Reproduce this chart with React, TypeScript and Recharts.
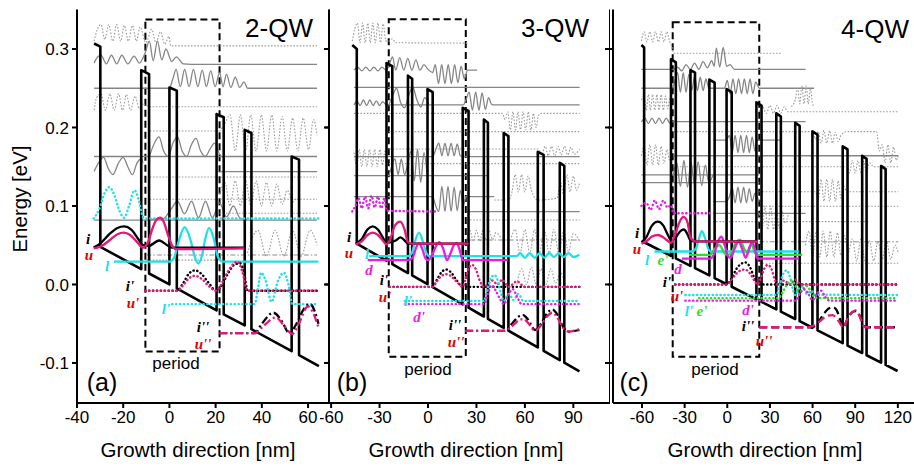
import React from 'react';
import { LineChart, Line, XAxis, YAxis, ReferenceArea } from 'recharts';

// ---------- shared axis values ----------
const Y_DOM: [number, number] = [-0.151, 0.3503];
const Y_TICKS = [-0.1, 0, 0.1, 0.2, 0.3];
const XT_A = [-40, -20, 0, 20, 40, 60];
const XT_B = [-60, -30, 0, 30, 60, 90];
const XT_C = [-60, -30, 0, 30, 60, 90, 120];

// ---------- panel (a) 2-QW : [x nm, E eV] pairs ----------
const bandA = [-32.6,0.307, -29.9,0.303, -29.9,0.048, -12.2,0.0195, -12.2,0.273, -8.8,0.268, -8.8,0.014, 0,0, 0,0.251, 3.2,0.247, 3.2,-0.005, 20.4,-0.033, 20.4,0.217, 23.5,0.213, 23.5,-0.038, 32.6,-0.052, 32.6,0.197, 35.5,0.193, 35.5,-0.057, 52.9,-0.085, 52.9,0.163, 56.1,0.159, 56.1,-0.09, 64.7,-0.104];
const iA = [-32.8,0.047, -30,0.052, -26,0.064, -22.5,0.072, -19.6,0.074, -16.5,0.07, -13.5,0.058, -11.5,0.05, -9,0.049, -4.5,0.056, -1,0.05, 1,0.047, 32.4,0.047];
const uA = [-32.8,0.046, -30,0.048, -26,0.056, -22.5,0.064, -19.8,0.066, -17,0.063, -14,0.054, -11.5,0.047, -9.5,0.052, -7.5,0.07, -5.5,0.083, -4,0.085, -2.5,0.08, -0.5,0.062, 1.5,0.048, 3,0.045, 32.4,0.046];
const lA = [-24,0.029, 0,0.029, 2,0.034, 4,0.055, 6.6,0.073, 9,0.058, 11,0.035, 12.5,0.027, 14,0.036, 15.5,0.058, 17.2,0.072, 19.2,0.058, 21,0.035, 23,0.029, 64.5,0.029];
const lUpA = [-32.8,0.084, -30.5,0.095, -28,0.117, -26,0.124, -24,0.115, -21.5,0.093, -19.6,0.085, -17.5,0.1, -15.1,0.12, -13.3,0.108, -11.5,0.086, -10.5,0.084, 64.5,0.084];
const i1A = [-10.5,-0.008, 3.4,-0.008, 6,0.002, 8.5,0.014, 11.1,0.018, 14,0.013, 17,0.002, 20.2,-0.008, 22,-0.004, 25,0.012, 28,0.025, 30.6,0.027, 32.5,0.012, 33.8,-0.008, 64.5,-0.008];
const u1A = [-10.5,-0.008, 3.4,-0.008, 6,-0.001, 8.5,0.008, 11,0.011, 14,0.007, 17,-0.002, 20.2,-0.008, 22,-0.002, 25,0.015, 28,0.027, 29.5,0.029, 31.5,0.017, 33.8,-0.008, 64.5,-0.008];
const l1A = [1.2,-0.025, 36.9,-0.025, 38.3,-0.005, 39.7,0.015, 41.5,0.006, 44.2,-0.022, 47,0.005, 49.6,0.015, 51.5,0.0, 53.2,-0.025, 64.5,-0.025];
const i2A = [21.6,-0.062, 36.9,-0.062, 40,-0.05, 45,-0.036, 48.5,-0.046, 51.9,-0.062, 55,-0.05, 58,-0.032, 60.9,-0.025, 63,-0.035, 64.5,-0.05];
const u2A = [21.6,-0.062, 37,-0.062, 41,-0.052, 46,-0.042, 49.5,-0.052, 53.2,-0.063, 56,-0.05, 60,-0.028, 62,-0.035, 64.5,-0.055];
const gA1 = [-32.6,0.31, -31.2,0.325, -29.6,0.331, -28,0.312, -26.3,0.331, -24.5,0.31, -22.8,0.331, -21.1,0.31, -19.5,0.33, -17.8,0.31, -16,0.33, -14.3,0.31, -12.7,0.328, -10.2,0.308, -7.7,0.325, -5.8,0.308, -3.9,0.322, -2,0.306, -0.2,0.316, 0.6,0.304, 63.9,0.304];
const gA2 = [-32.6,0.282, -31,0.29, -29.6,0.292, -27.3,0.281, -25.1,0.292, -22.8,0.281, -20.6,0.292, -18,0.281, -15.3,0.291, -13,0.282, -10.5,0.295, -8.7,0.31, -7,0.285, -5.2,0.31, -3.3,0.286, -1.5,0.3, 1,0.284, 3,0.29, 6,0.281, 9.6,0.2805, 63.9,0.2805];
const gA3 = [-32.6,0.25, 0,0.25, 1.5,0.262, 2.9,0.274, 4.7,0.252, 6.6,0.274, 8.5,0.252, 10.4,0.274, 12.3,0.252, 14.2,0.273, 16,0.252, 17.9,0.272, 19.8,0.252, 21.7,0.27, 23.2,0.252, 24.7,0.268, 26.6,0.251, 28.5,0.264, 30.4,0.251, 32.3,0.258, 33.8,0.25, 63.9,0.25];
const gA4 = [-32.6,0.222, -31.5,0.238, -29.6,0.243, -27.7,0.222, -25.8,0.243, -23.9,0.222, -22,0.243, -20.3,0.222, -18.6,0.242, -16.8,0.222, -14.9,0.24, -13,0.224, -11.5,0.23, -8.5,0.2265, 63.9,0.2265];
const gA5 = [21.7,0.195, 24,0.205, 26.2,0.216, 28.5,0.17, 30.7,0.216, 33,0.17, 35.2,0.216, 37.5,0.17, 39.8,0.216, 42,0.17, 44.3,0.216, 46.5,0.17, 48.8,0.214, 51,0.17, 53.3,0.212, 55.6,0.17, 57.9,0.212, 60.2,0.172, 62.4,0.21, 63.9,0.19];
const gA6 = [-8.5,0.1955, 21.7,0.1955];
const gA7 = [-32.6,0.163, 63.9,0.163];
const gA7b = [-32.6,0.144, -30.5,0.156, -28.5,0.162, -26.5,0.148, -24.5,0.14, -22,0.155, -20,0.162, -18,0.15, -16,0.14, -14,0.155, -12,0.16, -11.5,0.155];
const gA7c = [-8.5,0.165, -6.5,0.18, -4.5,0.188, -2.5,0.17, -0.5,0.163, 1.5,0.18, 3.5,0.188, 5.5,0.17, 7.5,0.163, 9.5,0.178, 11.5,0.186, 13.5,0.17, 15.5,0.163, 17.5,0.172, 19.5,0.18, 21.7,0.165];
const gA8 = [21.7,0.1437, 63.9,0.1437];
const gA9 = [-8.5,0.137, 63.9,0.137];
const gA10 = [21.7,0.115, 24,0.13, 26.2,0.1, 28.5,0.132, 30.7,0.1, 33,0.132, 35.2,0.1, 37.5,0.132, 39.8,0.1, 42,0.13, 44.3,0.1, 46.5,0.128, 48.8,0.102, 51,0.12, 53.3,0.105, 55,0.11];
const gA11 = [-8.5,0.1085, 63.9,0.1085];
const gA12 = [-8.5,0.083, -3,0.083, 0.5,0.095, 3.5,0.106, 6.5,0.09, 9.6,0.106, 12.6,0.085, 15.6,0.106, 18.6,0.085, 21.7,0.104, 24.7,0.086, 27.7,0.1, 30.7,0.084, 33.8,0.083];
const gA13 = [-32.6,0.082, 63.9,0.082];
const gA14 = [21.7,0.0907, 63.9,0.0907];
const gA15 = [33.8,0.04, 36,0.06, 38.3,0.069, 42,0.036, 45.8,0.069, 49.5,0.036, 53.3,0.069, 57,0.036, 60.9,0.069, 63.9,0.05];
const gA16 = [-10,0.0376, 63.9,0.0376];
const gA17 = [-10,0.031, 21.7,0.031];

// ---------- panel (b) 3-QW ----------
const bandB = [-46.9,0.305, -44.1,0.3, -44.1,0.052, -25.7,0.0303, -25.7,0.282, -22.1,0.278, -22.1,0.026, -12.4,0.0146, -12.4,0.266, -9.8,0.262, -9.8,0.0116, -0.3,0.0004, -0.3,0.249, 2.9,0.245, 2.9,-0.0034, 21.5,-0.0254, 21.5,0.225, 25.1,0.221, 25.1,-0.0296, 34.6,-0.0408, 34.6,0.21, 37.1,0.206, 37.1,-0.0438, 46.9,-0.0553, 46.9,0.193, 49.8,0.189, 49.8,-0.0588, 68,-0.0802, 68,0.169, 71.6,0.165, 71.6,-0.0845, 81.6,-0.0963, 81.6,0.155, 84.4,0.151, 84.4,-0.0996, 93.8,-0.1107];
const iB = [-44.8,0.052, -41,0.058, -37.5,0.07, -34.2,0.074, -31,0.07, -28,0.06, -25.7,0.053, -20,0.056, -17,0.06, -14,0.055, -12.4,0.052, 25,0.052];
const uB = [-44.8,0.051, -41,0.055, -37.5,0.063, -34.2,0.066, -31,0.063, -28,0.056, -25.7,0.051, -23.5,0.057, -20.5,0.075, -17.2,0.08, -14.5,0.07, -12.4,0.054, -9.8,0.052, 25.1,0.052];
const lB = [-36.5,0.036, -12.4,0.036, -10,0.04, -8,0.055, -5.6,0.066, -3.2,0.055, -1,0.04, 1,0.036, 55,0.036, 57,0.04, 60,0.034, 63,0.04, 66,0.034, 69,0.04, 72,0.034, 75,0.04, 78,0.035, 81,0.04, 84,0.035, 87,0.04, 90,0.035, 93.7,0.038];
const dB = [-37.3,0.031, -12.4,0.031, -9.5,0.034, -7.5,0.046, -5.6,0.053, -3.5,0.045, -1.5,0.033, 0,0.031, 2,0.035, 4.5,0.047, 7.1,0.054, 9.5,0.045, 11.8,0.031, 14,0.04, 16,0.05, 17.7,0.053, 19.5,0.045, 21.5,0.031, 49.4,0.031];
const dUpB = [-46.9,0.093, -45,0.1, -43,0.11, -41,0.097, -39,0.112, -37,0.097, -35,0.113, -33,0.098, -31,0.112, -29,0.097, -27,0.11, -25.7,0.094, 4.8,0.093];
const i1B = [-23.8,-0.003, 2.9,-0.003, 5.5,0.006, 8.5,0.016, 11.3,0.019, 14,0.016, 17.5,0.006, 21.5,-0.003, 93.7,-0.003];
const u1B = [-23.8,-0.003, 2.9,-0.003, 5.5,0.004, 8.5,0.011, 11,0.013, 14,0.011, 17.5,0.004, 21.5,-0.003, 23,0.005, 25,0.02, 27.2,0.025, 29.5,0.02, 32,0.005, 34.6,-0.003, 40,0.005, 43,0.0, 46,0.006, 50,-0.003, 55,0.004, 60,-0.003, 93.7,-0.003];
const l1B = [-14.3,-0.021, 34.6,-0.021, 37,-0.005, 39,0.008, 41,0.012, 43,0.006, 45,-0.01, 47,-0.021, 50,-0.012, 53,-0.02, 56,-0.012, 59,-0.021, 93.7,-0.021];
const d1B = [-14.3,-0.025, 34.6,-0.025, 37,-0.012, 39.5,-0.001, 42,-0.008, 45,-0.02, 47,-0.025, 50,-0.012, 52.5,-0.006, 55,-0.015, 58,-0.025, 93.7,-0.025];
const i2B = [23,-0.059, 47.3,-0.059, 52,-0.05, 56,-0.041, 59,-0.039, 62,-0.045, 66.3,-0.058, 70,-0.05, 74,-0.036, 77,-0.032, 80,-0.038, 84,-0.055, 87,-0.06, 93.7,-0.058];
const u2B = [23,-0.059, 47.3,-0.059, 52,-0.053, 56,-0.046, 59,-0.044, 62,-0.049, 66.3,-0.059, 70,-0.052, 74,-0.04, 77,-0.036, 80,-0.042, 84,-0.056, 87,-0.06, 93.7,-0.057];
const gB1 = [-46.9,0.31, -45.3,0.326, -43.7,0.333, -42.1,0.308, -40.5,0.333, -38.9,0.308, -37.3,0.333, -35.7,0.308, -34.2,0.333, -32.6,0.308, -31,0.333, -29.4,0.308, -27.8,0.332, -26,0.31, -24.2,0.31, -22,0.313, -20,0.308, 25.1,0.3075];
const gB2 = [-45.8,0.273, -43.5,0.277, -41,0.272, -38.5,0.277, -36,0.272, -33.5,0.277, -31,0.272, -28.5,0.277, -26,0.273, -24,0.28, -22,0.29, -20,0.273, -17.5,0.289, -15,0.273, -12.5,0.288, -10,0.273, -7.5,0.286, -5,0.273, -2.5,0.28, 0,0.274, 2.9,0.27, 4.5,0.28, 6.5,0.256, 8.5,0.28, 10.5,0.256, 12.5,0.28, 14.5,0.256, 16.5,0.28, 18.5,0.257, 20.5,0.278, 22.5,0.262, 24.5,0.273, 30.4,0.273];
const gB3 = [-45.8,0.251, 93.9,0.251];
const gB3b = [-24.2,0.2287, -22,0.24, -19.5,0.25, -17,0.232, -14.5,0.225, -12,0.24, -9.5,0.252, -7,0.236, -4.5,0.226, -2,0.238, 0.5,0.229];
const gB4 = [-45.8,0.2287, -44,0.234, -42,0.228, -40,0.235, -38,0.228, -36,0.235, -34,0.228, -32,0.234, -30,0.228, -28,0.233, -26,0.229, -24.2,0.2287, 21.9,0.2287, 23.5,0.235, 25.5,0.245, 27.5,0.222, 29.5,0.245, 31.5,0.222, 33.5,0.244, 35.5,0.223, 37.5,0.238, 39.5,0.229, 41,0.2287, 93.9,0.2287];
const gB5 = [-45.8,0.218, 46,0.218, 47.8,0.21, 49.4,0.22, 51,0.197, 52.6,0.22, 54.2,0.197, 55.7,0.22, 57.3,0.197, 58.9,0.22, 60.5,0.197, 62.1,0.22, 63.7,0.197, 65.3,0.218, 66.9,0.2, 68.4,0.215, 70,0.218, 93.9,0.218];
const gB6 = [-24.2,0.1947, 93.9,0.1947];
const gB7 = [-45.8,0.168, -44.2,0.152, -42.6,0.172, -41,0.15, -39.4,0.172, -37.8,0.15, -36.2,0.172, -34.6,0.15, -33,0.172, -31.4,0.15, -29.8,0.172, -28.2,0.152, -26.6,0.17, -24.2,0.1726, 68.5,0.1726, 70.5,0.165, 72.5,0.176, 74.5,0.164, 76.5,0.176, 78.5,0.164, 80.5,0.176, 82.5,0.165, 84.5,0.176, 86.5,0.165, 88.5,0.175, 90.5,0.166, 93.9,0.172];
const gB8 = [-45.8,0.1628, 2.9,0.1628, 4.8,0.172, 6.7,0.18, 8.6,0.164, 10.5,0.18, 12.4,0.164, 14.3,0.18, 16.2,0.164, 18.1,0.179, 20,0.164, 21.9,0.1628, 93.9,0.1628];
const gB9 = [-24.2,0.1386, -22.5,0.15, -20.5,0.16, -18.5,0.14, -16.5,0.16, -14.5,0.14, -12.4,0.155, -10.5,0.17, -8.5,0.132, -6.5,0.172, -4.5,0.13, -2.5,0.168, -0.5,0.139];
const gB10 = [-45.8,0.1386, 36.7,0.1386];
const gB11 = [-45.8,0.1119, 2.9,0.1119, 4.8,0.1, 6.7,0.093, 8.6,0.125, 10.5,0.093, 12.4,0.125, 14.3,0.093, 16.2,0.124, 18.1,0.094, 20,0.12, 21.9,0.1, 23.5,0.1119, 41,0.1119];
const gB12 = [41,0.1076, 50,0.1076, 52,0.118, 54,0.14, 56,0.118, 58,0.14, 60,0.118, 62,0.138, 64,0.12, 68,0.1076, 80,0.11, 82,0.13, 84,0.115, 86,0.14, 88,0.118, 90,0.138, 92,0.12, 93.9,0.13];
const gB13 = [24,0.0928, 93.9,0.0928];
const gB14 = [24,0.0822, 93.9,0.0822];
const gB15 = [-24.2,0.154, 93.9,0.154];
const gB16 = [24,0.0575, 26,0.069, 28,0.055, 30,0.069, 32,0.055, 34,0.069, 36,0.056, 38,0.068, 40,0.057, 42,0.066, 45,0.06];
const gB17 = [51.6,0.06, 54,0.07, 57,0.04, 60,0.07, 63,0.04, 66,0.07, 69,0.04, 72,0.07, 75,0.04, 78,0.07, 81,0.04, 84,0.068, 87,0.042, 90,0.065, 93.9,0.055];
const gB18 = [24,0.0567, 93.9,0.0567];
const gB19 = [55,0.0, 58,0.02, 61,0.0, 64,0.022, 67,0.0, 70,0.02, 73,0.0, 76,0.02, 79,0.002, 82,0.015, 85,0.0];

// ---------- panel (c) 4-QW ----------
const bandC = [-60.4,0.305, -58.5,0.302, -58.5,0.0538, -39.6,0.0364, -39.6,0.287, -36.2,0.283, -36.2,0.0333, -25.9,0.0238, -25.9,0.273, -22.7,0.27, -22.7,0.0209, -12.6,0.0116, -12.6,0.261, -8.9,0.257, -8.9,0.0082, -0.5,0.0005, -0.5,0.249, 3.1,0.245, 3.1,-0.0029, 20.5,-0.0189, 20.5,0.232, 24.1,0.228, 24.1,-0.0222, 34.5,-0.0317, 34.5,0.218, 37.7,0.214, 37.7,-0.0347, 47.8,-0.044, 47.8,0.206, 50.9,0.202, 50.9,-0.0468, 59.9,-0.0551, 59.9,0.195, 63.5,0.191, 63.5,-0.0584, 81.2,-0.0747, 81.2,0.176, 84.6,0.172, 84.6,-0.0778, 94.9,-0.0873, 94.9,0.164, 98,0.16, 98,-0.0902, 108.2,-0.0995, 108.2,0.151, 111.4,0.147, 111.4,-0.1025, 119.8,-0.1102];
const iC = [-60.4,0.054, -57,0.06, -53,0.075, -48.8,0.08, -45,0.075, -41.5,0.062, -39.6,0.056, -37,0.058, -33,0.068, -30.5,0.07, -28,0.064, -25.9,0.056, -22.7,0.055, 21,0.055];
const uC = [-60.4,0.052, -57,0.055, -53,0.061, -48.8,0.063, -45,0.06, -41.5,0.055, -39.6,0.053, -37,0.062, -33.5,0.08, -30.7,0.086, -28,0.079, -25.9,0.06, -22.7,0.055, 21.3,0.0545];
const lC = [-51.2,0.042, -25,0.042, -22,0.046, -20,0.058, -17.9,0.068, -15.5,0.058, -13.5,0.046, -12,0.042, 50.2,0.042];
const eC = [-27,0.0376, -12,0.0376, -9,0.045, -5.5,0.05, -2,0.04, 0,0.0376, 3,0.04, 6,0.054, 9,0.057, 12,0.045, 14.5,0.04, 17,0.052, 19.5,0.04, 22,0.0376, 52.7,0.0376];
const dC = [-31.9,0.033, -12,0.033, -9,0.04, -6.5,0.055, -4.1,0.061, -1.8,0.05, 0.5,0.036, 2.5,0.034, 5,0.045, 8,0.055, 10.5,0.045, 13,0.034, 15.5,0.047, 17.6,0.054, 19.5,0.045, 21,0.033, 50.2,0.033];
const dUpC = [-60.4,0.1, -57,0.104, -54,0.095, -51,0.107, -48,0.096, -45,0.107, -42,0.098, -39.6,0.101, -37.9,0.0907, -10.1,0.0907];
const i1C = [-36.7,0, -0.5,0, 3,0.008, 6.5,0.02, 9.5,0.026, 12.8,0.028, 16,0.022, 19,0.008, 21.2,0, 119.8,0];
const u1C = [-36.7,0, -0.5,0, 3,0.006, 6.5,0.014, 9.5,0.018, 12.5,0.019, 16,0.014, 19,0.005, 21.2,0, 23.5,0.008, 26,0.02, 28.5,0.025, 31,0.02, 33.5,0.006, 35,0, 40,0.005, 44,0, 48,0.006, 52,0, 119.8,0];
const l1C = [-29.5,-0.0134, 34.5,-0.0134, 37,0.0, 39.5,0.014, 41.8,0.018, 44,0.01, 46,-0.005, 47.8,-0.0134, 50,-0.006, 53,-0.003, 56,-0.012, 59,-0.008, 62,-0.013, 119.8,-0.0134];
const e1C = [-19.8,-0.0176, 36,-0.0176, 39,-0.01, 42,0.0, 45.4,0.005, 48,-0.002, 50.5,-0.012, 53,-0.006, 56,-0.002, 59,-0.01, 62,-0.017, 119.8,-0.0176];
const d1C = [-29.5,-0.0206, 48,-0.0206, 51,-0.012, 54,-0.006, 57,-0.012, 60,-0.02, 63,-0.012, 66,-0.008, 69,-0.016, 72,-0.0206, 119.8,-0.0206];
const i2C = [22.5,-0.0545, 59.9,-0.0545, 64,-0.048, 68.5,-0.036, 72,-0.03, 74.4,-0.029, 77,-0.033, 79.5,-0.045, 81.6,-0.0545, 84.5,-0.044, 87.5,-0.036, 90.1,-0.034, 93,-0.039, 95.5,-0.05, 97.3,-0.0545, 119.8,-0.0545];
const u2C = [22.5,-0.0545, 55,-0.0545, 60,-0.053, 65,-0.047, 70,-0.04, 74,-0.039, 76.8,-0.043, 79.5,-0.05, 81.6,-0.055, 84.5,-0.044, 87.5,-0.036, 90.1,-0.033, 93,-0.04, 95.5,-0.052, 97.3,-0.0545, 119.8,-0.0545];
const gC1 = [-60.4,0.31, -58.5,0.322, -56.5,0.309, -54.5,0.322, -52.5,0.309, -50.5,0.322, -48.5,0.309, -46.5,0.322, -44.5,0.309, -42.5,0.322, -40.5,0.309, -38.5,0.3, -37.9,0.2945, 38.2,0.2945];
const gC2 = [-60.4,0.274, -37.9,0.274, -35,0.277, -32,0.272, -29,0.28, -26,0.274, -23,0.282, -20,0.274, -17,0.284, -14,0.276, -11,0.285, -9.2,0.278, -7.7,0.301, -5.3,0.277, -2.9,0.302, -0.5,0.278, 2,0.28, 5,0.274, 55.1,0.274];
const gC3 = [-60.4,0.25, -39,0.25, -37,0.258, -35,0.27, -33,0.245, -31,0.27, -29,0.245, -27,0.268, -25,0.247, -23,0.266, -21,0.247, -19,0.264, -17,0.247, -15,0.262, -13,0.25, -10,0.25, -2,0.25, 0,0.26, 2,0.243, 4,0.262, 6,0.243, 8,0.262, 10,0.243, 12,0.262, 14,0.243, 16,0.262, 18,0.243, 20,0.258, 22.5,0.25, 61.1,0.25];
const gC4 = [-60.4,0.235, -58.5,0.24, -57,0.222, -55.5,0.242, -54,0.222, -52.5,0.242, -51,0.222, -49.5,0.242, -48,0.222, -46.5,0.242, -45,0.222, -43.5,0.24, -42,0.224, -40.5,0.236, -39.5,0.239];
const gC4b = [45,0.2265, 47.8,0.235, 49.5,0.25, 51,0.23, 52.5,0.253, 54,0.23, 55.5,0.253, 57,0.23, 58.5,0.25, 60,0.23, 61.1,0.2265];
const gC5 = [22.5,0.22, 25,0.226, 27.5,0.218, 30,0.228, 32.5,0.218, 35,0.228, 37.5,0.218, 40,0.226, 42.5,0.22, 45,0.22, 120.3,0.22];
const gC6 = [-60.4,0.207, -58,0.212, -55.5,0.205, -53,0.212, -50.5,0.205, -48,0.212, -45.5,0.205, -43,0.212, -40.5,0.206, -37.9,0.2074, 55.1,0.2074];
const gC7 = [-37.9,0.1947, 59.9,0.1947, 62,0.185, 64,0.195, 66,0.18, 68,0.196, 70,0.18, 72,0.196, 74,0.18, 76,0.194, 78,0.182, 80,0.19, 84,0.1947, 105,0.1947, 107,0.17, 109,0.178, 111,0.155, 113,0.178, 115,0.155, 117,0.175, 119,0.158, 120.3,0.165];
const gC8 = [-10.1,0.184, -0.7,0.184, 1.5,0.19, 3.5,0.168, 5.5,0.19, 7.5,0.168, 9.5,0.19, 11.5,0.168, 13.5,0.19, 15.5,0.168, 17.5,0.188, 19.5,0.17, 21,0.184, 38.2,0.184];
const gC9 = [-37.9,0.164, 120.3,0.164];
const gC9b = [-60.4,0.164, -58.5,0.176, -56.5,0.152, -54.5,0.178, -52.5,0.152, -50.5,0.178, -48.5,0.152, -46.5,0.176, -44.5,0.154, -42.5,0.172, -40.5,0.158, -39,0.164];
const gC10 = [-37.9,0.15, 84,0.15, 86,0.142, 88,0.158, 90,0.142, 92,0.158, 94,0.142, 96,0.157, 98,0.143, 100,0.155, 103,0.15, 120.3,0.15];
const gC11 = [-60.4,0.1395, 22.5,0.1395];
const gC11b = [-37.9,0.14, -35.5,0.155, -33,0.125, -30.5,0.158, -28,0.124, -25.5,0.156, -23,0.126, -20.5,0.156, -18,0.126, -15.5,0.152, -13,0.13, -10.1,0.1395];
const gC12 = [-60.4,0.1297, 22.5,0.1297];
const gC13 = [22.5,0.1182, 62,0.1182, 64,0.108, 66,0.134, 68,0.106, 70,0.134, 72,0.106, 74,0.134, 76,0.106, 78,0.132, 80,0.11, 82,0.125, 84,0.1182, 120.3,0.1182];
const gC14 = [-10.1,0.1055, -0.7,0.1055, 1.5,0.112, 3.5,0.124, 5.5,0.104, 7.5,0.124, 9.5,0.104, 11.5,0.124, 13.5,0.104, 15.5,0.122, 17.5,0.106, 19.5,0.116, 22.5,0.1055];
const gC15 = [22.5,0.0997, 120.3,0.0997];
const gC16 = [-10.1,0.0907, 55.1,0.0907];
const gC17 = [-10.1,0.08, 100,0.08];
const gC18 = [22.5,0.09, 24.5,0.07, 26.5,0.1, 28.5,0.07, 30.5,0.1, 32.5,0.07, 34.5,0.098, 36.5,0.072, 38.5,0.094, 40.5,0.078, 43,0.09];
const gC19 = [55,0.05, 57.5,0.068, 60,0.035, 62.5,0.068, 65,0.035, 67.5,0.068, 70,0.035, 72.5,0.068, 75,0.035, 77.5,0.066, 80,0.037, 82.5,0.062, 85,0.04, 88,0.058, 91,0.03, 94,0.058, 97,0.03, 100,0.056, 103,0.03, 106,0.055, 109,0.032, 112,0.055, 115,0.032, 118,0.05, 120.3,0.04];
const gC20 = [22.5,0.0545, 120.3,0.0545];
const gC21 = [22.5,0.027, 120.3,0.027];

// ---------- styling ----------
const PK = '#e5177a', CY = '#1fe0e8', MG = '#e41ee4', GN = '#2edc2e';
type Ser = { d: number[]; c: string; w: number; dash?: string; lin?: boolean; cap?: 'round' | 'butt' };
const gs = (d: number[]): Ser => ({ d, c: '#858585', w: 1.3 });
const gd = (d: number[]): Ser => ({ d, c: '#9c9c9c', w: 1.1, dash: '1.6 1.6' });
const gdd = (d: number[]): Ser => ({ d, c: '#8e8e8e', w: 1.1, dash: '5 2 1.5 2' });
const sol = (d: number[], c: string): Ser => ({ d, c, w: 2.3 });
const dots = (d: number[], c: string): Ser => ({ d, c, w: 2.4, dash: '0.3 3.6', cap: 'round' });
const dd = (d: number[], c: string): Ser => ({ d, c, w: 2.3, dash: '8 3 2 3' });
const lng = (d: number[], c: string): Ser => ({ d, c, w: 2.3, dash: '8 4' });
const band = (d: number[]): Ser => ({ d, c: '#000', w: 2.6, lin: true });

const P = (f: number[]) => {
  const o: { x: number; y: number }[] = [];
  for (let i = 0; i + 1 < f.length; i += 2) o.push({ x: f[i], y: f[i + 1] });
  return o;
};

const seriesA: Ser[] = [
  gd(gA1), gs(gA2), gs(gA3), gd(gA4), gd(gA5), gd(gA6), gs(gA7), gs(gA7b), gs(gA7c), gs(gA8), gd(gA9),
  gd(gA10), gd(gA11), gs(gA12), gs(gA13), gd(gA14), gd(gA15), gdd(gA16), gd(gA17),
  band(bandA),
  dots(lUpA, CY), sol(lA, CY), sol(iA, '#000'), sol(uA, PK),
  dots(i1A, '#000'), dots(u1A, PK), dots(l1A, CY), dd(i2A, '#000'), dd(u2A, PK),
];
const seriesB: Ser[] = [
  gd(gB1), gs(gB2), gs(gB3), gs(gB3b), gs(gB4), gd(gB5), gd(gB6), gd(gB7), gs(gB8), gs(gB9), gs(gB10),
  gs(gB11), gd(gB12), gs(gB13), gd(gB14), gd(gB15), gd(gB16), gd(gB17), gdd(gB18), gd(gB19),
  band(bandB),
  dots(dUpB, MG), sol(lB, CY), sol(dB, MG), sol(iB, '#000'), sol(uB, PK),
  dots(i1B, '#000'), dots(u1B, PK), dots(l1B, CY), dots(d1B, MG), dd(i2B, '#000'), dd(u2B, PK),
];
const seriesC: Ser[] = [
  gd(gC1), gs(gC2), gs(gC3), gd(gC4), gd(gC4b), gd(gC5), gs(gC6), gd(gC7), gs(gC8), gs(gC9), gd(gC9b),
  gd(gC10), gs(gC11), gs(gC11b), gs(gC12), gd(gC13), gs(gC14), gd(gC15), gs(gC16), gd(gC17), gd(gC18),
  gd(gC19), gdd(gC20), gd(gC21),
  band(bandC),
  dots(dUpC, MG), sol(lC, CY), sol(eC, GN), sol(dC, MG), sol(iC, '#000'), sol(uC, PK),
  dots(i1C, '#000'), dots(u1C, PK), dots(l1C, CY), dots(e1C, GN), dots(d1C, MG), lng(i2C, '#000'), lng(u2C, PK),
];

const FONT = '"Liberation Sans", Arial, sans-serif';
const tickStyle = { fontSize: 17, fill: '#000', fontFamily: FONT };

type PanelProps = {
  left: number; width: number; plotL: number; plotR: number;
  xDom: [number, number]; xTicks: number[]; series: Ser[]; box: number[]; yLabels: boolean;
};

function Panel({ left, width, plotL, plotR, xDom, xTicks, series, box, yLabels }: PanelProps) {
  const ax = { stroke: '#000', strokeWidth: 2 };
  return (
    <div style={{ position: 'absolute', left, top: 0 }}>
      <LineChart width={width} height={466} margin={{ top: 9.5, right: 0, bottom: 0, left: 0 }}>
        <XAxis xAxisId="b" dataKey="x" type="number" domain={xDom} ticks={xTicks} allowDataOverflow
          height={63} axisLine={ax} tickLine={ax} tickSize={5} tickMargin={3} tick={tickStyle} interval={0} />
        <XAxis xAxisId="t" orientation="top" dataKey="x" type="number" domain={xDom} ticks={xTicks} allowDataOverflow
          height={0} mirror axisLine={ax} tickLine={ax} tickSize={5} tickFormatter={() => ''} />
        <YAxis yAxisId="l" type="number" domain={Y_DOM} ticks={Y_TICKS} allowDataOverflow width={plotL - left}
          axisLine={ax} tickLine={ax} tickSize={5} tickMargin={3} tick={tickStyle} interval={0}
          tickFormatter={(v: number) => (yLabels ? (v === 0 ? '0.0' : String(v)) : '')} />
        <YAxis yAxisId="r" orientation="right" type="number" domain={Y_DOM} ticks={Y_TICKS} allowDataOverflow
          width={left + width - plotR} mirror axisLine={ax} tickLine={ax} tickSize={5} tickFormatter={() => ''} />
        {series.map((s, i) => (
          <Line key={i} xAxisId="b" yAxisId="l" data={P(s.d)} dataKey="y" type={s.lin ? 'linear' : 'monotone'}
            stroke={s.c} strokeWidth={s.w} strokeDasharray={s.dash} strokeLinecap={s.cap || 'butt'}
            strokeLinejoin="round" dot={false} activeDot={false} isAnimationActive={false} />
        ))}
        <ReferenceArea xAxisId="b" yAxisId="l" x1={box[0]} x2={box[1]} y1={box[2]} y2={box[3]}
          fill="none" fillOpacity={0} stroke="#000" strokeWidth={2} strokeDasharray="7 4" ifOverflow="visible" />
      </LineChart>
    </div>
  );
}

const T = ({ x, y, s, c = '#000', t, serif = false }: { x: number; y: number; s: number; c?: string; t: string; serif?: boolean }) => (
  <div style={{
    position: 'absolute', left: x, top: y, transform: 'translate(-50%,-50%)', whiteSpace: 'nowrap',
    lineHeight: serif ? 0.62 : 1,
    fontSize: s, color: c, fontFamily: serif ? '"Liberation Serif", "Times New Roman", serif' : FONT,
    fontStyle: serif ? 'italic' : 'normal', fontWeight: serif ? 'bold' : 'normal',
  }}>{t}</div>
);

const RED = '#e00000';
const LS = 15;

export default function App() {
  return (
    <div style={{ position: 'absolute', left: 0, top: 0, width: 914, height: 466, overflow: 'hidden', background: '#fff', fontFamily: FONT }}>
      <Panel left={0} width={330} plotL={77} plotR={319} xDom={[-40, 69.5]} xTicks={XT_A} series={seriesA}
        box={[-10.4, 21.7, -0.0853, 0.3376]} yLabels />
      <Panel left={320} width={290} plotL={329} plotR={603} xDom={[-61.3, 112.7]} xTicks={XT_B} series={seriesB}
        box={[-24.3, 23.4, -0.092, 0.338]} yLabels={false} />
      <Panel left={605} width={320} plotL={613} plotR={916} xDom={[-80.4, 139.1]} xTicks={XT_C} series={seriesC}
        box={[-38.4, 22.5, -0.092, 0.334]} yLabels={false} />

      <div style={{ position: 'absolute', left: 20, top: 199, transform: 'translate(-50%,-50%) rotate(-90deg)', fontSize: 20.5, whiteSpace: 'nowrap', fontFamily: FONT }}>Energy [eV]</div>
      <T x={198} y={450} s={20.5} t="Growth direction [nm]" />
      <T x={466} y={450} s={20.5} t="Growth direction [nm]" />
      <T x={765} y={450} s={20.5} t="Growth direction [nm]" />

      <T x={279} y={28} s={26} t="2-QW" />
      <T x={555} y={28} s={26} t="3-QW" />
      <T x={875} y={29} s={26} t="4-QW" />
      <T x={102} y={382} s={25} t="(a)" />
      <T x={352} y={382} s={25} t="(b)" />
      <T x={634} y={382} s={25} t="(c)" />
      <T x={176} y={363} s={17} t="period" />
      <T x={428} y={369} s={17} t="period" />
      <T x={715} y={369} s={17} t="period" />

      {/* panel a state labels */}
      <T x={88} y={240} s={LS} serif t="i" />
      <T x={89} y={256} s={LS} serif c={RED} t="u" />
      <T x={107} y={267} s={LS} serif c={CY} t="l" />
      <T x={130} y={287} s={LS} serif t="i'" />
      <T x={133} y={304} s={LS} serif c={RED} t="u'" />
      <T x={166} y={310} s={LS} serif c={CY} t="l'" />
      <T x={203} y={328} s={LS} serif t="i''" />
      <T x={203} y={345} s={LS} serif c={RED} t="u''" />
      {/* panel b */}
      <T x={349} y={238} s={LS} serif t="i" />
      <T x={349} y={254} s={LS} serif c={RED} t="u" />
      <T x={367} y={255} s={LS} serif c={CY} t="l" />
      <T x={369} y={271} s={LS} serif c={MG} t="d" />
      <T x={384} y={281} s={LS} serif t="i'" />
      <T x={385} y={298} s={LS} serif c={RED} t="u'" />
      <T x={408} y={302} s={LS} serif c={CY} t="l'" />
      <T x={419} y={318} s={LS} serif c={MG} t="d'" />
      <T x={455} y={326} s={LS} serif t="i''" />
      <T x={456} y={343} s={LS} serif c={RED} t="u''" />
      {/* panel c */}
      <T x={637} y={234} s={LS} serif t="i" />
      <T x={637} y={250} s={LS} serif c={RED} t="u" />
      <T x={647} y={261} s={LS} serif c={CY} t="l" />
      <T x={663} y={261} s={LS} serif c={GN} t="e'" />
      <T x={678} y={270} s={LS} serif c={MG} t="d" />
      <T x={667} y={283} s={LS} serif t="i'" />
      <T x={677} y={297} s={LS} serif c={RED} t="u'" />
      <T x={689} y={312} s={LS} serif c={CY} t="l'" />
      <T x={702} y={312} s={LS} serif c={GN} t="e'" />
      <T x={748} y={311} s={LS} serif c={MG} t="d'" />
      <T x={748} y={327} s={LS} serif t="i''" />
      <T x={764} y={342} s={LS} serif c={RED} t="u''" />
    </div>
  );
}
